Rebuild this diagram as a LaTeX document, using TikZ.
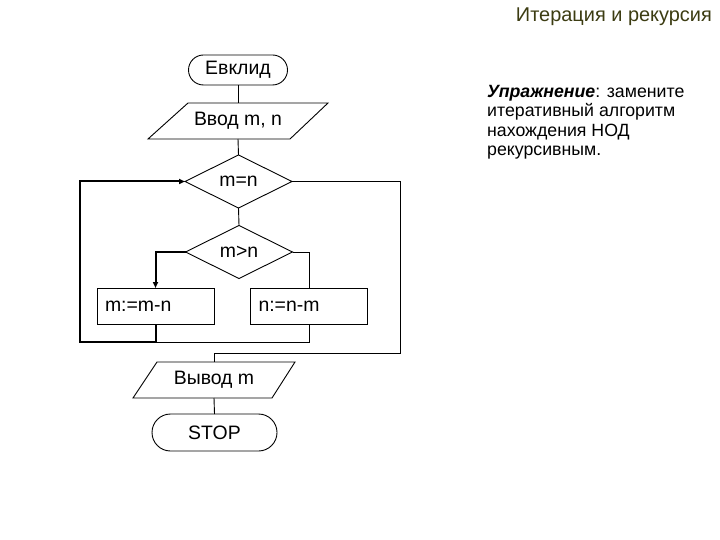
\documentclass[tikz,border=0pt]{standalone}
\usepackage{fontspec}
\setmainfont{Liberation Sans}
\usetikzlibrary{shapes.geometric,arrows.meta}
\definecolor{titlecol}{RGB}{60,60,18}
\tikzset{
  thin line/.style={line width=0.9bp},
  thick line/.style={line width=2bp},
  arr/.style={-{Triangle[length=6bp,width=5bp]}},
  term/.style={draw, thin line, rectangle, inner sep=0pt, outer sep=0pt, font=\fontsize{19.5}{22}\selectfont},
  lbl/.style={inner sep=0pt, outer sep=0pt, font=\fontsize{19.5}{22}\selectfont},
  dec/.style={draw, thin line, diamond, inner sep=0pt, outer sep=0pt, minimum width=107bp, minimum height=53bp, font=\fontsize{19.5}{22}\selectfont},
  proc/.style={draw, thin line, rectangle, inner xsep=8bp, inner ysep=0pt, outer sep=0pt, text width=101bp, align=left, minimum height=36bp, font=\fontsize{19.5}{22}\selectfont},
}
\begin{document}
\begin{tikzpicture}[x=1bp,y=-1bp]
\useasboundingbox (0,0) rectangle (720,540);
\fill[white] (0,0) rectangle (720,540);

% title
\node[anchor=base east, inner sep=0pt, text=titlecol, font=\fontsize{20}{23}\selectfont] (title) at (712,21.7) {Итерация и рекурсия};

% exercise text
\node[anchor=north west, inner sep=0pt, align=left, font=\fontsize{17.8}{19.5}\selectfont] (ex) at (487,85)
  {\textbf{\textit{Упражнение}}: замените\\итеративный алгоритм\\нахождения НОД\\рекурсивным.};

% start terminator
\node[term, rounded corners=15bp, minimum width=99bp, minimum height=30bp] (start) at (238,70) {Евклид};

% input parallelogram
\coordinate (inT) at (238,103);
\coordinate (inB) at (238,139);
\draw[thin line] (188,103) -- (328,103) -- (290,139) -- (148,139) -- cycle;
\node[lbl] (inp) at (238,121) {Ввод m, n};

% decisions
\node[dec] (d1) at (238.5,181.5) {m=n};
\node[dec] (d2) at (239,252) {m>n};

% process boxes
\node[proc] (b1) at (155.5,306) {m:=m-n};
\node[proc] (b2) at (309,306) {n:=n-m};

% output parallelogram
\coordinate (outT) at (214,362);
\coordinate (outB) at (214,398);
\draw[thin line] (157,362) -- (295,362) -- (272,398) -- (133,398) -- cycle;
\node[lbl] (outp) at (214,380) {Вывод m};

% stop terminator
\node[term, rounded corners=18.5bp, minimum width=125bp, minimum height=37bp] (stop) at (214.5,432.5) {STOP};

% helper coordinates
\coordinate (loopL) at (80,342);
\coordinate (jn) at (b1.south |- loopL);
\coordinate (rr) at (400,353);

% connectors
\draw[thin line] (start.south) -- (inT);
\draw[thin line] (inB) -- (d1.north);
\draw[thin line] (d1.south) -- (d2.north);
\draw[thick line, arr] (d2.west) -| (b1.north);
\draw[thin line] (d2.east) -| (b2.north);
\draw[thin line] (b2.south) |- (jn);
\draw[thick line, arr] (b1.south) |- (loopL) |- (d1.west);
\draw[thin line] (d1.east) -| (rr) -| (outT);
\draw[thin line] (outB) -- (stop.north);
\end{tikzpicture}
\end{document}
